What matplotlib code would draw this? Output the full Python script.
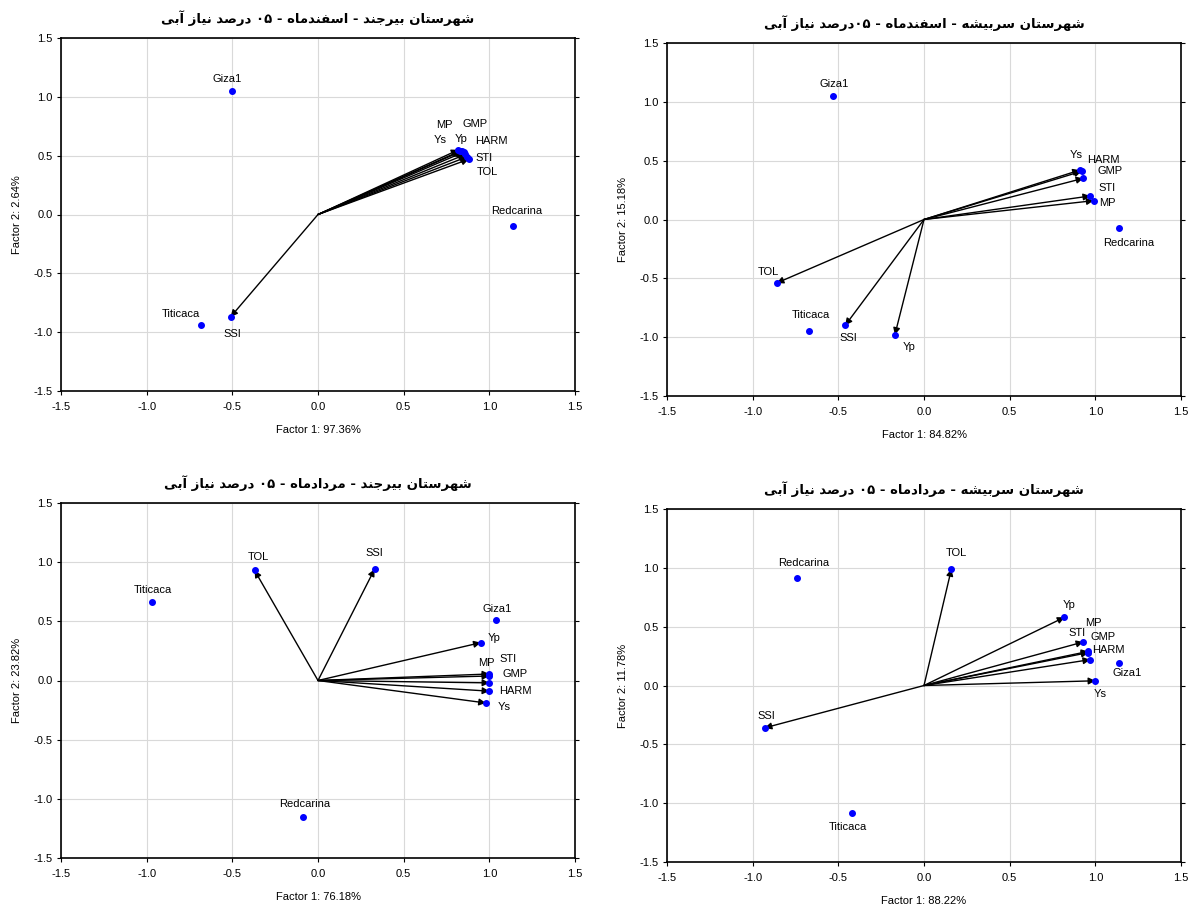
import matplotlib
matplotlib.use("Agg")
import matplotlib.pyplot as plt

plt.rcParams['font.family'] = ['Liberation Sans', 'DejaVu Sans']
plt.rcParams['axes.unicode_minus'] = False

# ---------------- data ----------------
titles = [
    "شهرستان بیرجند - اسفندماه - ۰۵ درصد نیاز آبی",
    "شهرستان سربیشه - اسفندماه - ۰۵درصد نیاز آبی",
    "شهرستان بیرجند - مردادماه - ۰۵ درصد نیاز آبی",
    "شهرستان سربیشه - مردادماه - ۰۵ درصد نیاز آبی",
]
xlabels = ["Factor 1: 97.36%", "Factor 1: 84.82%", "Factor 1: 76.18%", "Factor 1: 88.22%"]
ylabels = ["Factor 2: 2.64%", "Factor 2: 15.18%", "Factor 2: 23.82%", "Factor 2: 11.78%"]

# panel 1 : Birjand - Esfand
p1_names = ["Giza1", "Titicaca", "SSI", "Redcarina", "MP", "GMP", "Ys", "Yp", "HARM", "STI", "TOL"]
p1_x = [-0.50, -0.68, -0.51, 1.14, 0.83, 0.85, 0.82, 0.84, 0.86, 0.87, 0.88]
p1_y = [1.05, -0.94, -0.87, -0.10, 0.54, 0.53, 0.55, 0.54, 0.51, 0.49, 0.47]
p1_arrow = [False, False, True, False, True, True, True, True, True, True, True]

# panel 2 : Sarbisheh - Esfand
p2_names = ["Giza1", "Ys", "HARM", "GMP", "STI", "MP", "Redcarina", "TOL", "Titicaca", "SSI", "Yp"]
p2_x = [-0.53, 0.91, 0.92, 0.93, 0.97, 0.99, 1.14, -0.86, -0.67, -0.46, -0.17]
p2_y = [1.05, 0.42, 0.41, 0.35, 0.20, 0.16, -0.07, -0.54, -0.95, -0.90, -0.98]
p2_arrow = [False, True, True, True, True, True, False, True, False, True, True]

# panel 3 : Birjand - Mordad
p3_names = ["TOL", "SSI", "Titicaca", "Giza1", "Yp", "MP", "STI", "GMP", "HARM", "Ys", "Redcarina"]
p3_x = [-0.37, 0.33, -0.97, 1.04, 0.95, 1.00, 1.00, 1.00, 1.00, 0.98, -0.09]
p3_y = [0.93, 0.94, 0.66, 0.51, 0.32, 0.055, 0.038, -0.02, -0.09, -0.19, -1.15]
p3_arrow = [True, True, False, False, True, True, True, True, True, True, False]

# panel 4 : Sarbisheh - Mordad
p4_names = ["Redcarina", "TOL", "Yp", "STI", "MP", "GMP", "HARM", "Ys", "Giza1", "SSI", "Titicaca"]
p4_x = [-0.74, 0.16, 0.82, 0.93, 0.96, 0.96, 0.97, 1.00, 1.14, -0.93, -0.42]
p4_y = [0.91, 0.99, 0.58, 0.37, 0.29, 0.28, 0.22, 0.04, 0.19, -0.36, -1.08]
p4_arrow = [False, True, True, True, True, True, True, True, False, True, False]

ticks = [-1.5, -1.0, -0.5, 0.0, 0.5, 1.0, 1.5]

# ---------------- layout (label offsets in pixels) ----------------
p1_off = [(-5, 12), (-21, 11), (2, -17), (3, 15), (-16, 26), (11, 28), (-18, 10), (-1, 12), (26, 13), (17, -1), (19, -13)]
p2_off = [(1, 12), (-4, 15), (22, 11), (27, 7), (17, 8), (14, -2), (9, -15), (-8, 11), (2, 16), (3, -13), (14, -12)]
p3_off = [(4, 13), (0, 16), (1, 12), (1, 11), (13, 5), (-3, 11), (19, 17), (26, 9), (26, 0), (18, -4), (2, 13)]
p4_off = [(6, 15), (5, 16), (5, 12), (-6, 9), (5, 28), (15, 16), (18, 10), (5, -13), (8, -10), (2, 12), (-4, -14)]

axes_rects = [
    [61 / 1193, 1 - 391 / 908, 514 / 1193, 353 / 908],
    [667 / 1193, 1 - 396 / 908, 514 / 1193, 353 / 908],
    [61 / 1193, 1 - 858 / 908, 514 / 1193, 355 / 908],
    [667 / 1193, 1 - 862 / 908, 514 / 1193, 353 / 908],
]

# ---------------- simple Persian shaping (visual order, no bidi in renderer) ----------------
FORMS = {  # isolated, final, initial, medial
    'ا': ('\uFE8D', '\uFE8E', None, None),
    'آ': ('\uFE81', '\uFE82', None, None),
    'ب': ('\uFE8F', '\uFE90', '\uFE91', '\uFE92'),
    'ت': ('\uFE95', '\uFE96', '\uFE97', '\uFE98'),
    'ج': ('\uFE9D', '\uFE9E', '\uFE9F', '\uFEA0'),
    'د': ('\uFEA9', '\uFEAA', None, None),
    'ر': ('\uFEAD', '\uFEAE', None, None),
    'ز': ('\uFEAF', '\uFEB0', None, None),
    'س': ('\uFEB1', '\uFEB2', '\uFEB3', '\uFEB4'),
    'ش': ('\uFEB5', '\uFEB6', '\uFEB7', '\uFEB8'),
    'ص': ('\uFEB9', '\uFEBA', '\uFEBB', '\uFEBC'),
    'ف': ('\uFED1', '\uFED2', '\uFED3', '\uFED4'),
    'م': ('\uFEE1', '\uFEE2', '\uFEE3', '\uFEE4'),
    'ن': ('\uFEE5', '\uFEE6', '\uFEE7', '\uFEE8'),
    'ه': ('\uFEE9', '\uFEEA', '\uFEEB', '\uFEEC'),
    'ی': ('\uFEEF', '\uFEF0', '\uFEF3', '\uFEF4'),
}
DIGITS = '۰۱۲۳۴۵۶۷۸۹'


def shape_word(w):
    out = []
    n = len(w)
    for i, c in enumerate(w):
        if c not in FORMS:
            out.append(c)
            continue
        f = FORMS[c]
        prev = w[i - 1] if i > 0 else None
        nxt = w[i + 1] if i < n - 1 else None
        jp = prev is not None and prev in FORMS and FORMS[prev][2] is not None
        jn = nxt is not None and nxt in FORMS and f[2] is not None
        if jp and jn:
            out.append(f[3])
        elif jp:
            out.append(f[1])
        elif jn:
            out.append(f[2])
        else:
            out.append(f[0])
    segs, cur, curdig = [], "", None
    for ch in out:
        isd = ch in DIGITS
        if curdig is None or isd == curdig:
            cur += ch
        else:
            segs.append((cur, curdig))
            cur = ch
        curdig = isd
    if cur:
        segs.append((cur, curdig))
    # right-to-left: segment order reversed, letters reversed, digit runs kept
    return "".join(s if d else s[::-1] for s, d in reversed(segs))


def visual(text):
    return " ".join(shape_word(w) for w in text.split(" ")[::-1])


# ---------------- draw ----------------
fig = plt.figure(figsize=(11.93, 9.08), dpi=100)

panels = [
    (p1_names, p1_x, p1_y, p1_arrow, p1_off),
    (p2_names, p2_x, p2_y, p2_arrow, p2_off),
    (p3_names, p3_x, p3_y, p3_arrow, p3_off),
    (p4_names, p4_x, p4_y, p4_arrow, p4_off),
]

for k, (names, xs, ys, arr, offs) in enumerate(panels):
    ax = fig.add_axes(axes_rects[k])
    ax.set_xlim(-1.5, 1.5)
    ax.set_ylim(-1.5, 1.5)
    ax.set_xticks(ticks)
    ax.set_yticks(ticks)
    ax.set_xticklabels([f"{t:.1f}" for t in ticks])
    ax.set_yticklabels([f"{t:.1f}" for t in ticks])
    ax.grid(True, color='#d9d9d9', lw=0.8)
    ax.set_axisbelow(True)
    for s in ax.spines.values():
        s.set_linewidth(1.2)
        s.set_color('black')
    ax.tick_params(axis='x', labelsize=8, length=3, width=0.8, direction='out', pad=5, colors='black')
    ax.tick_params(axis='y', labelsize=8, length=3, width=0.8, direction='out', pad=3,
                   right=True, colors='black')
    for name, x, y, a, (dx, dy) in zip(names, xs, ys, arr, offs):
        if a:
            ax.annotate('', xy=(x, y), xytext=(0, 0),
                        arrowprops=dict(arrowstyle='-|>', color='black', lw=1.0,
                                        mutation_scale=10, shrinkA=0, shrinkB=0), zorder=3)
        ax.plot([x], [y], 'o', color='#0000ff', markersize=4, zorder=4)
        ax.annotate(name, xy=(x, y), xytext=(dx, dy), textcoords='offset pixels',
                    ha='center', va='center', fontsize=8, color='black', zorder=5)
    ax.set_xlabel(xlabels[k], fontsize=8, labelpad=9)
    ax.set_ylabel(ylabels[k], fontsize=8, labelpad=8)
    ax.set_title(visual(titles[k]), fontsize=9.5, fontweight='bold',
                 family=['DejaVu Sans'], pad=11)

fig.savefig('out.png', dpi=100)
